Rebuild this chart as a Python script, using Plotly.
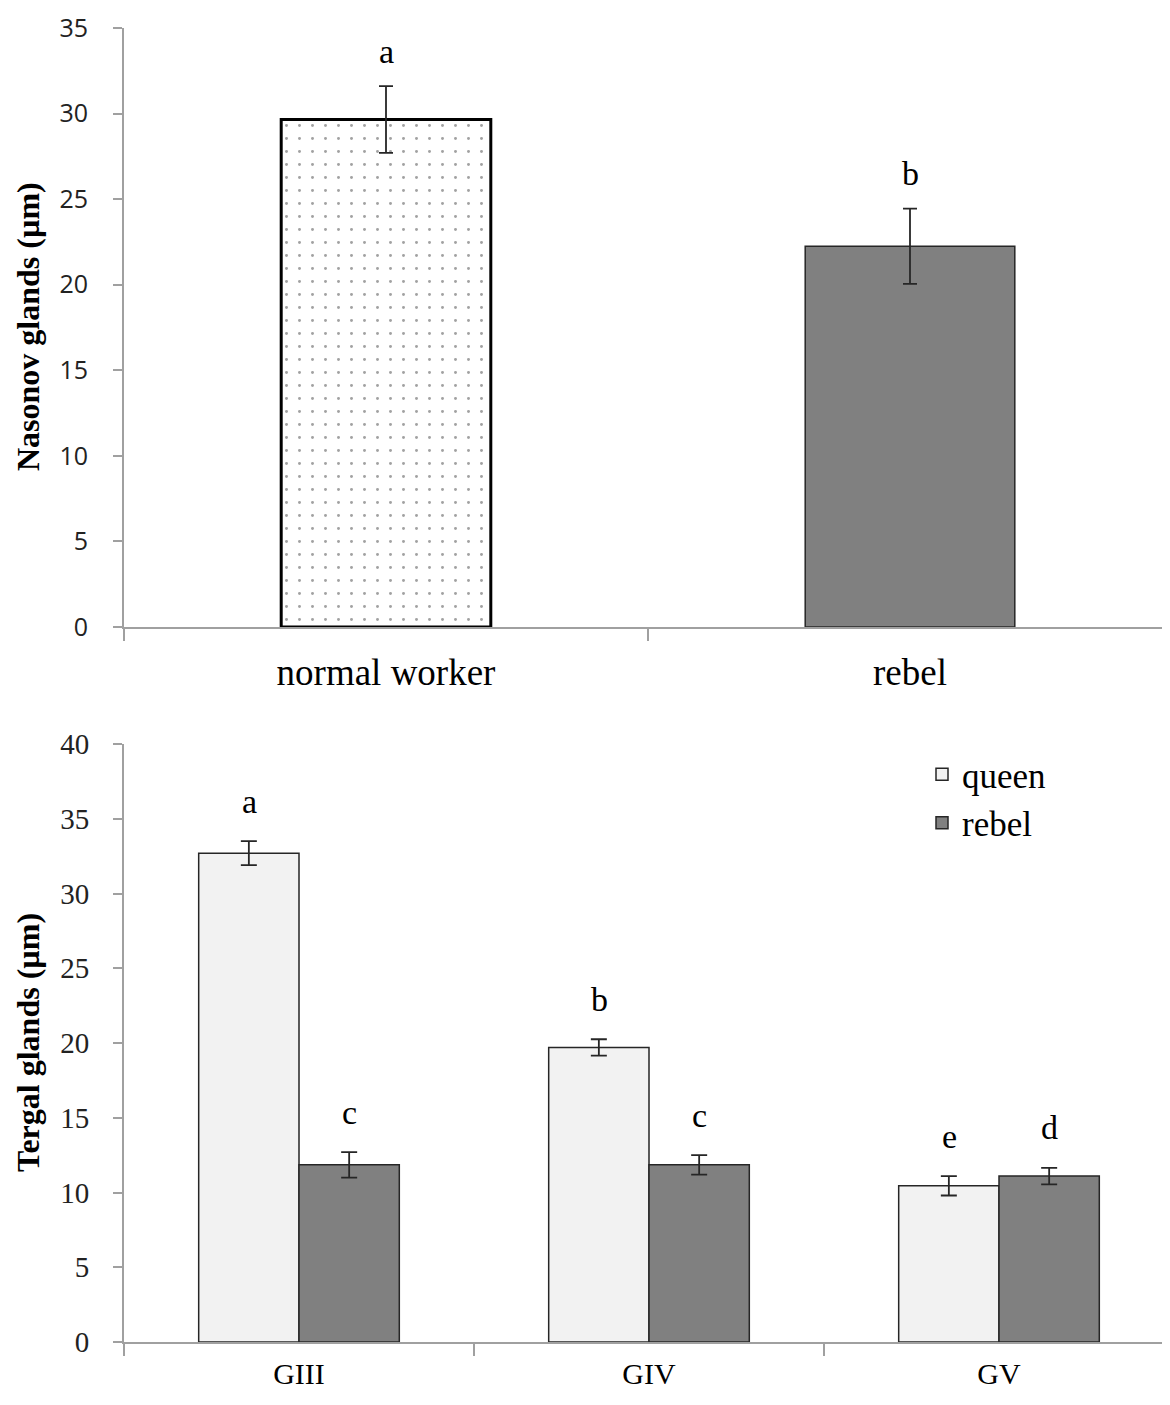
import plotly.graph_objects as go

# ---- data ----
top_categories = ["normal worker", "rebel"]
top_means = [29.65, 22.25]
top_errors = [1.95, 2.2]
top_letters = ["a", "b"]

bottom_categories = ["GIII", "GIV", "GV"]
queen_means = [32.7, 19.7, 10.45]
queen_errors = [0.8, 0.55, 0.65]
rebel_means = [11.85, 11.85, 11.1]
rebel_errors = [0.85, 0.65, 0.55]
queen_letters = ["a", "b", "e"]
rebel_letters = ["c", "c", "d"]

top_yticks = [0, 5, 10, 15, 20, 25, 30, 35]
bottom_yticks = [0, 5, 10, 15, 20, 25, 30, 35, 40]

# page body adds an 8px margin; size the figure so the page is exactly 1170x1405
OFF = 8
W, H = 1170 - 2 * OFF, 1405 - 2 * OFF
L = 124 - OFF
PLOT_W = W - L
SERIF = "Liberation Serif"
SANS = "Open Sans"
AXIS_GRAY = "#a0a0a0"


def py(screen_y):
    """paper fraction for a screen y position"""
    return (H - (screen_y - OFF)) / H


fig = go.Figure()

# top chart
fig.add_trace(go.Bar(
    x=top_categories, y=top_means, width=0.4,
    marker=dict(
        color=["white", "#808080"],
        line=dict(color=["#000000", "#262626"], width=[3, 1.5]),
        pattern=dict(shape=[".", ""], fgcolor="#dcdcdc", bgcolor="white",
                     size=13, solidity=0.04, fillmode="overlay"),
    ),
    error_y=dict(type="data", array=top_errors, color="#262626", thickness=1.8, width=7),
    xaxis="x", yaxis="y", showlegend=False,
))

# bottom chart
fig.add_trace(go.Bar(
    name="queen", x=bottom_categories, y=queen_means, width=0.2866, offset=-0.2866,
    marker=dict(color="#f2f2f2", line=dict(color="#262626", width=1.5)),
    error_y=dict(type="data", array=queen_errors, color="#262626", thickness=1.8, width=8),
    xaxis="x2", yaxis="y2",
))
fig.add_trace(go.Bar(
    name="rebel", x=bottom_categories, y=rebel_means, width=0.2866, offset=0,
    marker=dict(color="#808080", line=dict(color="#262626", width=1.5)),
    error_y=dict(type="data", array=rebel_errors, color="#262626", thickness=1.8, width=8),
    xaxis="x2", yaxis="y2",
))

annotations = []
for c, m, e, t in zip(top_categories, top_means, top_errors, top_letters):
    annotations.append(dict(x=c, y=m + e, xref="x", yref="y", text=t, showarrow=False,
                            yanchor="middle", yshift=35,
                            font=dict(family=SERIF, size=34, color="black")))
for c, m, e, t in zip(bottom_categories, queen_means, queen_errors, queen_letters):
    annotations.append(dict(x=c, y=m + e, xref="x2", yref="y2", text=t, showarrow=False,
                            yanchor="middle", yshift=40, xshift=-50,
                            font=dict(family=SERIF, size=34, color="black")))
for c, m, e, t in zip(bottom_categories, rebel_means, rebel_errors, rebel_letters):
    annotations.append(dict(x=c, y=m + e, xref="x2", yref="y2", text=t, showarrow=False,
                            yanchor="middle", yshift=40, xshift=50,
                            font=dict(family=SERIF, size=34, color="black")))

# y-axis titles
annotations.append(dict(x=0, y=py(327), xref="paper", yref="paper",
                        text="<b>Nasonov glands (µm)</b>", textangle=-90, showarrow=False,
                        xanchor="center", yanchor="middle", xshift=-96,
                        font=dict(family=SERIF, size=32, color="black")))
annotations.append(dict(x=0, y=py(1043), xref="paper", yref="paper",
                        text="<b>Tergal glands (µm)</b>", textangle=-90, showarrow=False,
                        xanchor="center", yanchor="middle", xshift=-96,
                        font=dict(family=SERIF, size=32, color="black")))

xaxis_common = dict(
    type="category", showline=True, linecolor=AXIS_GRAY, linewidth=2,
    ticks="outside", tickson="boundaries", ticklen=12, tickcolor=AXIS_GRAY, tickwidth=1.5,
    showgrid=False, zeroline=False, fixedrange=True, automargin=False,
)
yaxis_common = dict(
    showline=True, linecolor=AXIS_GRAY, linewidth=2, ticks="outside", ticklen=9,
    tickcolor=AXIS_GRAY, tickwidth=1.5, showgrid=False, zeroline=False, automargin=False,
)

top_cat_px = 524.0
bot_cat_px = 350.0

fig.update_layout(
    width=W, height=H, autosize=False,
    margin=dict(l=L, r=0, t=0, b=0, pad=0, autoexpand=False),
    plot_bgcolor="white", paper_bgcolor="white",
    barmode="overlay",
    xaxis=dict(**xaxis_common, domain=[0, 1], anchor="y",
               range=[-0.5, -0.5 + PLOT_W / top_cat_px],
               tickfont=dict(family=SERIF, size=37, color="black"), ticklabelstandoff=12),
    yaxis=dict(**yaxis_common, domain=[py(627), py(28)], anchor="x",
               range=[0, 35], tickvals=top_yticks,
               tickfont=dict(family=SANS, size=25, color="#222222"), ticklabelstandoff=20),
    xaxis2=dict(**xaxis_common, domain=[0, 1], anchor="y2",
                range=[-0.5, -0.5 + PLOT_W / bot_cat_px],
                tickfont=dict(family=SERIF, size=30, color="black"), ticklabelstandoff=4),
    yaxis2=dict(**yaxis_common, domain=[py(1342), py(744)], anchor="x2",
                range=[0, 40], tickvals=bottom_yticks,
                tickfont=dict(family=SERIF, size=29, color="#222222"), ticklabelstandoff=18),
    legend=dict(x=(922 - 124) / PLOT_W, y=py(745), xanchor="left", yanchor="top",
                font=dict(family=SERIF, size=35, color="black"),
                bgcolor="rgba(0,0,0,0)", tracegroupgap=18, traceorder="normal",
                itemwidth=30),
    annotations=annotations,
    showlegend=True,
)

fig.write_html("out.html", config={"responsive": False})
